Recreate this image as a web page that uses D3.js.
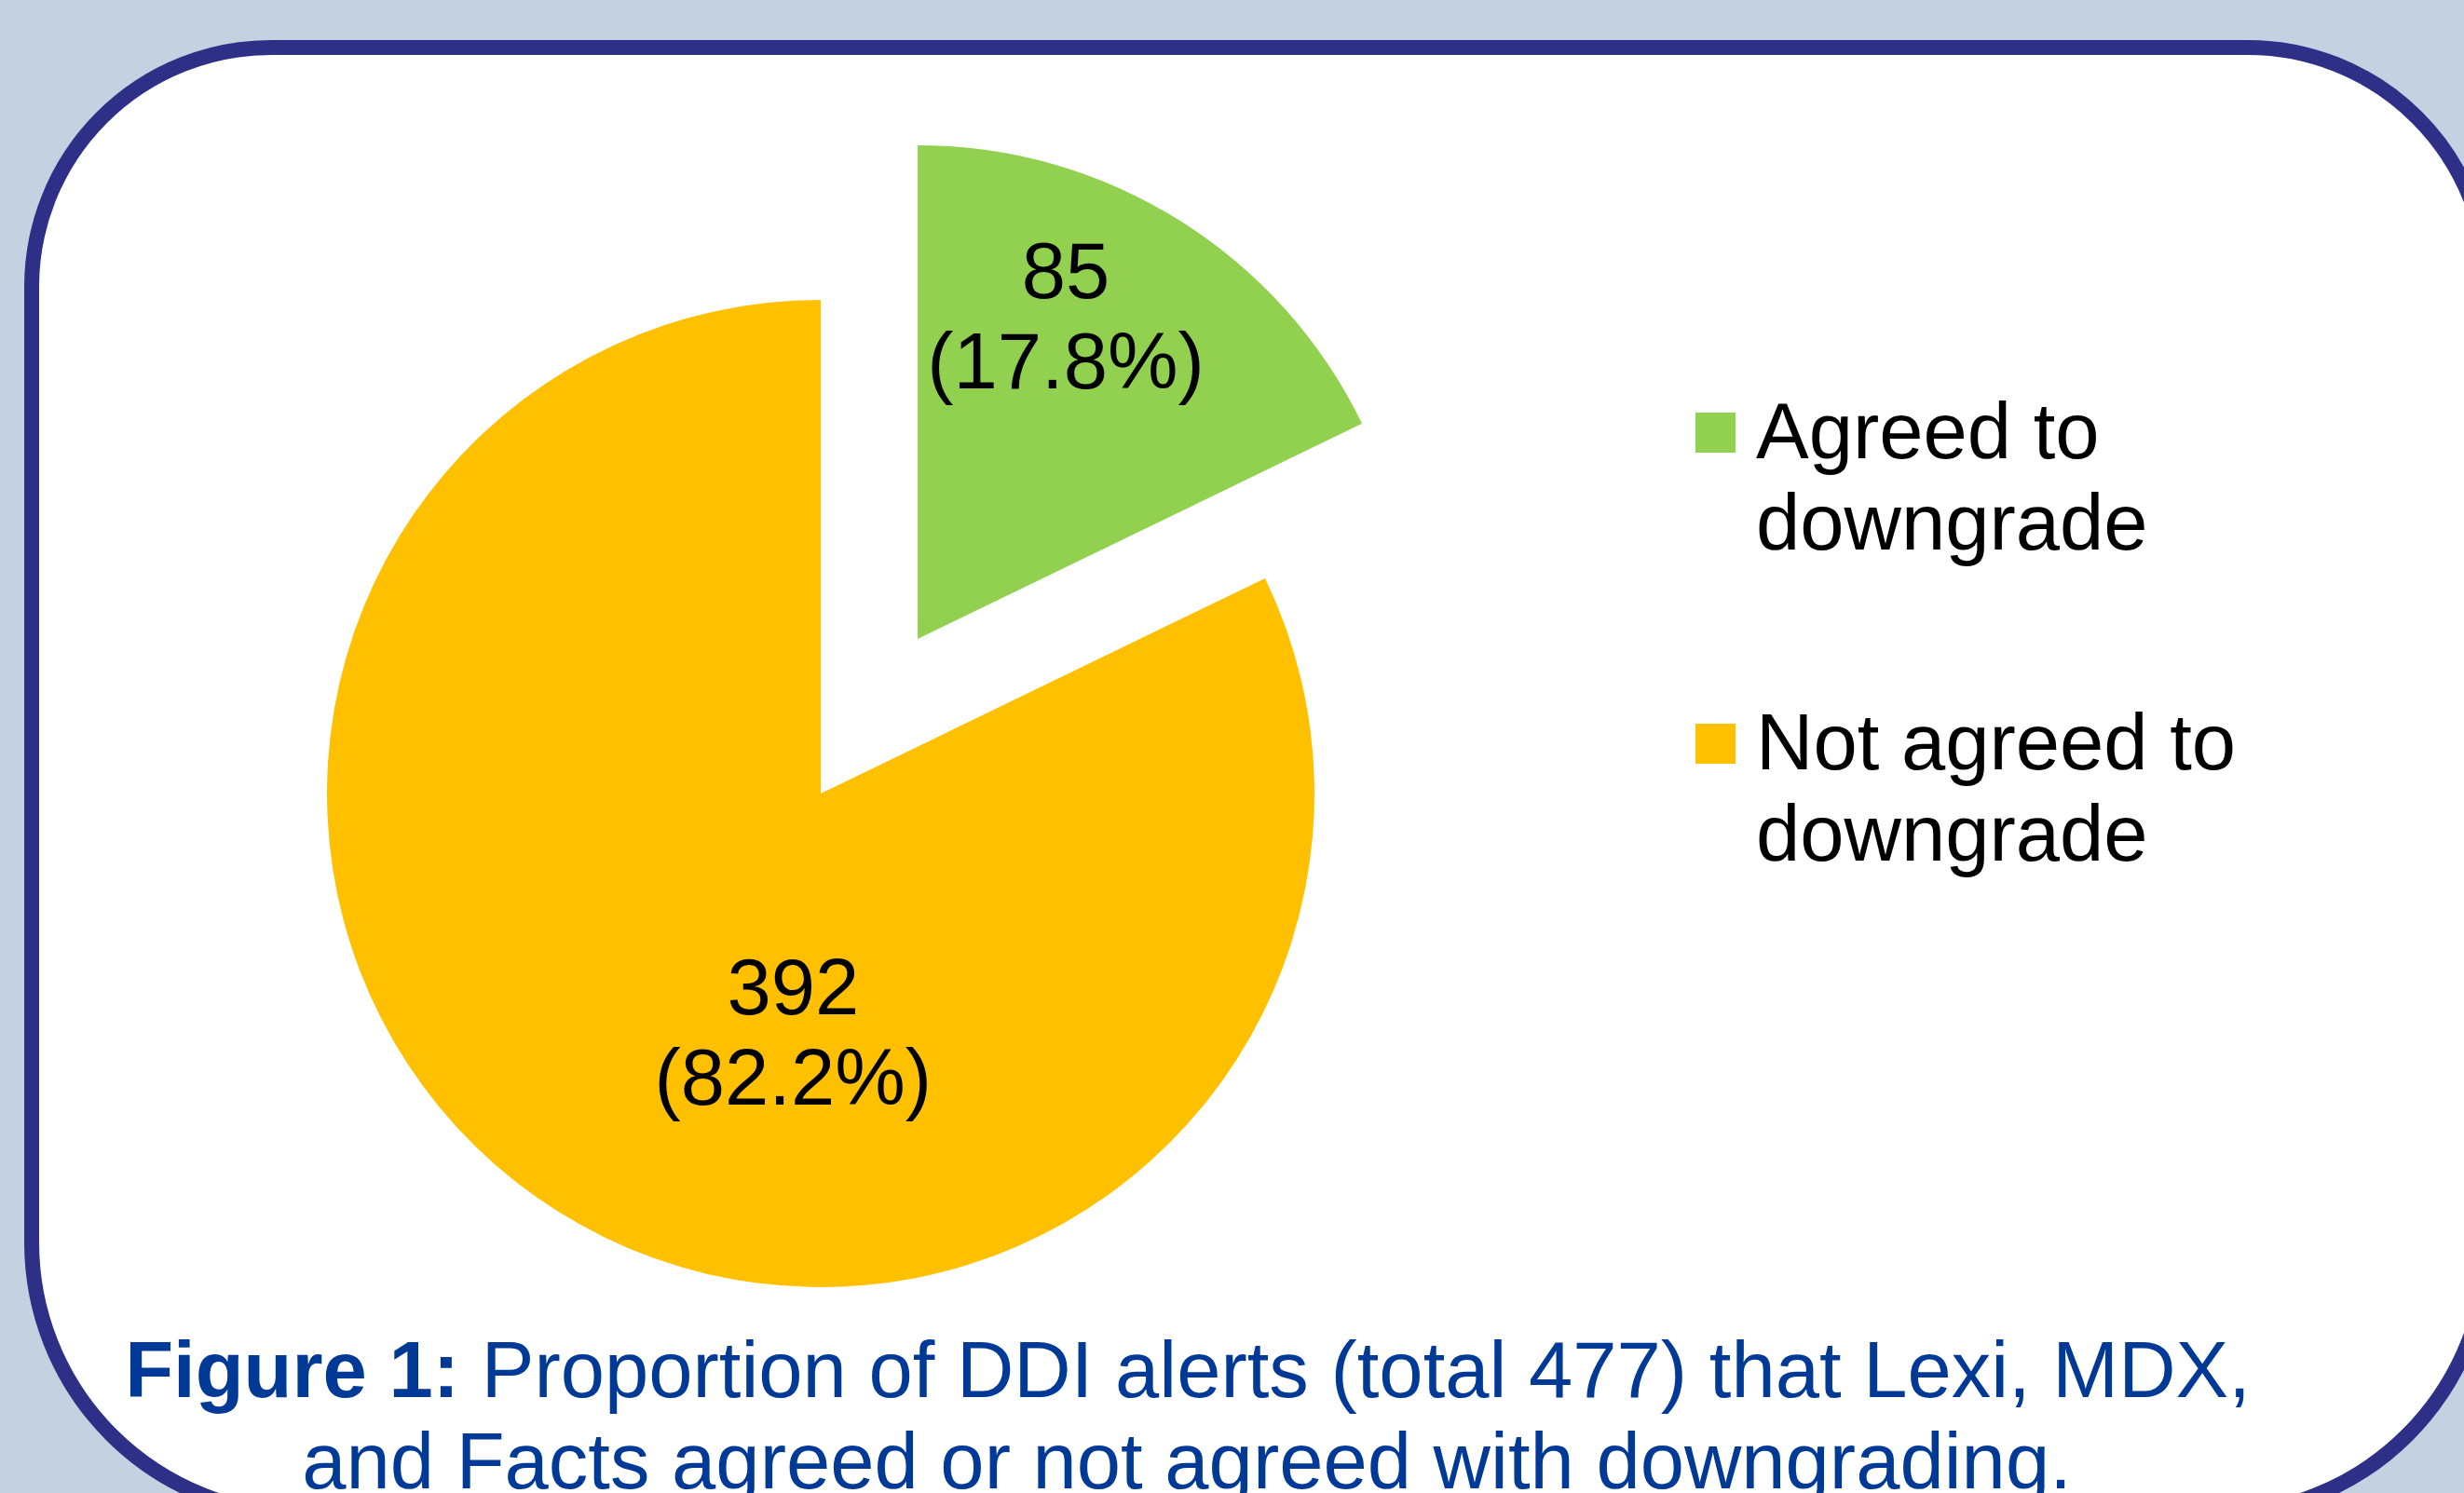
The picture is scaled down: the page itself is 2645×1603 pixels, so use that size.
<!DOCTYPE html>
<html>
<head>
<meta charset="utf-8">
<script src="https://cdn.jsdelivr.net/npm/d3@7"></script>
<style>
  html, body { margin: 0; padding: 0; background: #C5D0E1; }
  svg { display: block; }
</style>
</head>
<body>
<svg id="chart"></svg>
<script>
const categories = ['Agreed to downgrade', 'Not agreed to downgrade']
const counts = [85, 392]
const legendLines = [['Agreed to', 'downgrade'], ['Not agreed to', 'downgrade']]
const sliceColors = ['#92D050', '#FFC000']
const captionBold = 'Figure 1:'
const captionLine1 = ' Proportion of DDI alerts (total 477) that Lexi, MDX,'
const captionLine2 = 'and Facts agreed or not agreed with downgrading.'

const width = 2645
const height = 1603
const font = '"Liberation Sans", Arial, sans-serif'

const svg = d3.select('#chart')
    .attr('width', width)
    .attr('height', height)

svg.append('rect')
    .attr('width', width)
    .attr('height', height)
    .attr('fill', '#C5D0E1')

// rounded panel, bottom corners a bit rounder than the top ones
const L = 34, R = 2670, T = 51, B = 1626, rt = 257, rb = 292
const panel = d3.path()
panel.moveTo(L + rt, T)
panel.lineTo(R - rt, T)
panel.arcTo(R, T, R, T + rt, rt)
panel.lineTo(R, B - rb)
panel.arcTo(R, B, R - rb, B, rb)
panel.lineTo(L + rb, B)
panel.arcTo(L, B, L, B - rb, rb)
panel.lineTo(L, T + rt)
panel.arcTo(L, T, L + rt, T, rt)
panel.closePath()

svg.append('path')
    .attr('d', panel.toString())
    .attr('fill', '#ffffff')
    .attr('stroke', '#2E3088')
    .attr('stroke-width', 16)

// pie
const cx = 881, cy = 852, radius = 530
const explode = [196, 0]
// label anchor relative to each slice centre, in radius units
const labelPos = [[0.30, -0.69], [-0.056, 0.447]]

const total = d3.sum(counts)
const pct = d3.format('.1%')
const pie = d3.pie().sort(null).value(d => d)
const arcs = pie(counts)
const arc = d3.arc().innerRadius(0).outerRadius(radius)

const g = svg.append('g').attr('transform', `translate(${cx},${cy})`)

const slices = g.selectAll('.slice')
    .data(arcs)
    .join('g')
    .attr('class', 'slice')
    .attr('transform', (d, i) => {
        const mid = (d.startAngle + d.endAngle) / 2
        return `translate(${Math.sin(mid) * explode[i]},${-Math.cos(mid) * explode[i]})`
    })

slices.append('path')
    .attr('d', arc)
    .attr('fill', (d, i) => sliceColors[i])

const labels = slices.append('text')
    .attr('font-family', font)
    .attr('font-size', 85)
    .attr('fill', '#000')
    .attr('text-anchor', 'middle')
    .attr('x', (d, i) => labelPos[i][0] * radius)
    .attr('y', (d, i) => labelPos[i][1] * radius)

labels.append('tspan').text(d => d.data)
labels.append('tspan')
    .attr('x', (d, i) => labelPos[i][0] * radius)
    .attr('dy', 97)
    .text(d => '(' + pct(d.data / total) + ')')

// legend
const legend = svg.append('g').attr('transform', 'translate(1820,443)')
const items = legend.selectAll('.item')
    .data(categories)
    .join('g')
    .attr('class', 'item')
    .attr('transform', (d, i) => `translate(0,${i * 334})`)

items.append('rect')
    .attr('width', 43)
    .attr('height', 43)
    .attr('fill', (d, i) => sliceColors[i])

items.append('text')
    .attr('font-family', font)
    .attr('font-size', 85)
    .attr('fill', '#000')
    .selectAll('tspan')
    .data((d, i) => legendLines[i])
    .join('tspan')
    .attr('x', 65)
    .attr('y', (d, j) => 49 + j * 98)
    .text(d => d)

// caption
const cap = svg.append('text')
    .attr('font-family', font)
    .attr('font-size', 85)
    .attr('fill', '#003A96')
    .attr('text-anchor', 'middle')

const l1 = cap.append('tspan').attr('x', 1275).attr('y', 1500)
l1.append('tspan').attr('font-weight', 'bold').text(captionBold)
l1.append('tspan').text(captionLine1)
cap.append('tspan').attr('x', 1274).attr('y', 1598).text(captionLine2)
</script>
</body>
</html>
